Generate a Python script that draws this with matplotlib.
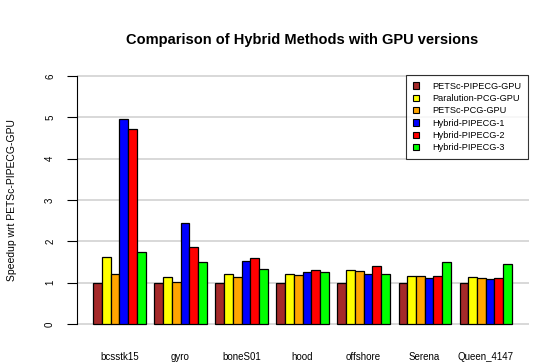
import matplotlib
matplotlib.use("Agg")
import matplotlib.pyplot as plt
import numpy as np
from matplotlib.patches import Patch

categories = ["bcsstk15", "gyro", "boneS01", "hood", "offshore", "Serena", "Queen_4147"]
series_names = ["PETSc-PIPECG-GPU", "Paralution-PCG-GPU", "PETSc-PCG-GPU",
                "Hybrid-PIPECG-1", "Hybrid-PIPECG-2", "Hybrid-PIPECG-3"]
petsc_pipecg_gpu = [1.00, 1.00, 1.00, 1.00, 1.00, 1.00, 1.00]
paralution_pcg_gpu = [1.62, 1.13, 1.20, 1.22, 1.31, 1.16, 1.14]
petsc_pcg_gpu = [1.22, 1.02, 1.15, 1.19, 1.28, 1.16, 1.12]
hybrid_pipecg_1 = [4.96, 2.45, 1.53, 1.25, 1.20, 1.11, 1.08]
hybrid_pipecg_2 = [4.71, 1.86, 1.59, 1.30, 1.40, 1.16, 1.11]
hybrid_pipecg_3 = [1.75, 1.50, 1.34, 1.25, 1.22, 1.50, 1.46]
series = [petsc_pipecg_gpu, paralution_pcg_gpu, petsc_pcg_gpu,
          hybrid_pipecg_1, hybrid_pipecg_2, hybrid_pipecg_3]
colors = ["#A52A2A", "#FFFF00", "#FFA500", "#0000FF", "#FF0000", "#00FF00"]
yticks = [0, 1, 2, 3, 4, 5, 6]

plt.rcParams['font.family'] = ['Liberation Sans', 'DejaVu Sans']

W, H = 545, 363
fig = plt.figure(figsize=(W / 100, H / 100), dpi=100)
left, right, top, bottom = 76.6, 528.6, 66, 334
ax = fig.add_axes([left / W, 1 - bottom / H, (right - left) / W, (bottom - top) / H])

nser = len(series)
ngrp = len(categories)
pitch = nser + 1
for i, vals in enumerate(series):
    x = np.arange(ngrp) * pitch + 1 + i + 0.5
    ax.bar(x, vals, width=1.0, color=colors[i], edgecolor="black", linewidth=0.9, zorder=3)

for t in yticks:
    ax.axhline(t, color="#D6D6D6", linewidth=1.3, zorder=1)

total = ngrp * pitch
ax.set_xlim(1 - 0.04 * (total - 1), total + 0.04 * (total - 1))
ax.set_ylim(-0.24, 6.24)

centers = np.arange(ngrp) * pitch + 1 + nser / 2
ax.set_xticks(centers)
ax.set_xticklabels(categories, fontsize=7)
ax.tick_params(axis="x", length=0, pad=13)

ax.set_yticks(yticks)
ax.set_yticklabels([str(t) for t in yticks], fontsize=7, rotation=90, va="center")
ax.tick_params(axis="y", length=7.5, width=0.8, pad=8)
for s in ["top", "right", "bottom"]:
    ax.spines[s].set_visible(False)
ax.spines["left"].set_bounds(0, 6)
ax.spines["left"].set_linewidth(0.8)

ax.set_ylabel("Speedup wrt PETSc-PIPECG-GPU", fontsize=7.5)
ax.yaxis.set_label_coords((12 - left) / (right - left), 0.5)
ax.yaxis.label.set_va("center")

fig.text((left + right) / 2 / W, 1 - 40 / H, "Comparison of Hybrid Methods with GPU versions",
         ha="center", va="center", fontsize=10.5, fontweight="bold")

handles = [Patch(facecolor=c, edgecolor="black", linewidth=0.8) for c in colors]
leg = fig.legend(handles, series_names, loc="upper right",
                 bbox_to_anchor=(528 / W, 1 - 75 / H), fontsize=6.6,
                 frameon=True, fancybox=False, handlelength=0.7, handleheight=0.7,
                 handletextpad=1.4, labelspacing=0.36, borderpad=0.75, borderaxespad=0)
leg.get_frame().set_edgecolor("black")
leg.get_frame().set_linewidth(0.8)

fig.savefig("out.png", dpi=100)
